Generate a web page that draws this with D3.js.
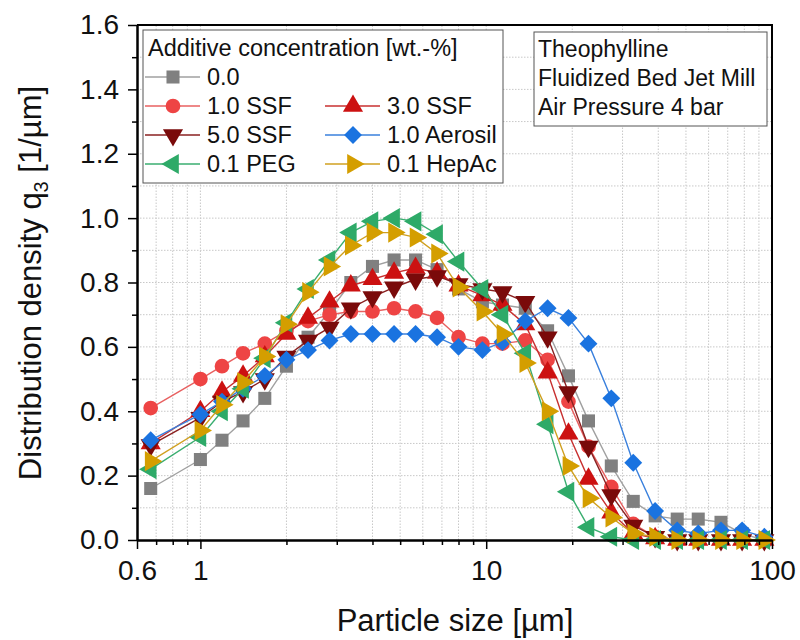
<!DOCTYPE html>
<html>
<head>
<meta charset="utf-8">
<script src="https://cdn.jsdelivr.net/npm/d3@7"></script>
<style>
  body { margin: 0; background: #fff; }
  text { font-family: "Liberation Sans", Arial, sans-serif; fill: #111; }
  .axis path, .axis line { stroke: #000; }
  .axis text { font-size: 28px; font-family: "Liberation Sans", Arial, sans-serif; fill: #111; }
</style>
</head>
<body>
<svg id="chart"></svg>
<script>
// Particle size classes [µm]
const sizes = [0.67, 1.0, 1.19, 1.41, 1.68, 2.0, 2.38, 2.83, 3.36, 4.0, 4.76, 5.66, 6.73, 8.0,
  9.7, 11.4, 13.7, 16.4, 19.4, 22.8, 27.4, 32.7, 39.0, 46.6, 55.2, 66.3, 78.6, 94.0];

// q3 values per additive
const q3_00 = [0.16, 0.25, 0.31, 0.37, 0.44, 0.54, 0.63, 0.71, 0.80, 0.85, 0.87, 0.87, 0.84, 0.78,
  0.74, 0.73, 0.72, 0.65, 0.51, 0.37, 0.23, 0.12, 0.075, 0.065, 0.065, 0.055, 0.02, 0.0];
const q3_10ssf = [0.41, 0.50, 0.54, 0.58, 0.61, 0.65, 0.68, 0.70, 0.71, 0.71, 0.72, 0.71, 0.69, 0.63,
  0.61, 0.61, 0.62, 0.56, 0.43, 0.29, 0.165, 0.05, 0.01, 0, 0, 0, 0, 0];
const q3_30ssf = [0.30, 0.40, 0.46, 0.51, 0.57, 0.64, 0.69, 0.74, 0.79, 0.81, 0.83, 0.845, 0.83, 0.79,
  0.76, 0.73, 0.67, 0.52, 0.33, 0.19, 0.085, 0.02, 0.005, 0, 0, 0, 0, 0];
const q3_50ssf = [0.295, 0.38, 0.43, 0.46, 0.50, 0.57, 0.62, 0.66, 0.72, 0.755, 0.785, 0.81, 0.82, 0.795,
  0.78, 0.77, 0.74, 0.63, 0.46, 0.29, 0.14, 0.045, 0.01, 0, 0, 0, 0, 0];
const q3_10aer = [0.31, 0.39, 0.43, 0.47, 0.51, 0.56, 0.59, 0.62, 0.64, 0.64, 0.64, 0.64, 0.63, 0.60,
  0.59, 0.615, 0.68, 0.72, 0.69, 0.61, 0.44, 0.24, 0.09, 0.03, 0.02, 0.03, 0.03, 0.01];
const q3_01peg = [0.22, 0.32, 0.40, 0.47, 0.565, 0.675, 0.78, 0.87, 0.955, 0.99, 1.0, 0.99, 0.95, 0.865,
  0.78, 0.70, 0.58, 0.36, 0.15, 0.04, 0.01, 0, 0, 0, 0, 0, 0, 0];
const q3_01hep = [0.245, 0.34, 0.42, 0.49, 0.57, 0.67, 0.77, 0.85, 0.915, 0.955, 0.955, 0.94, 0.89, 0.785,
  0.71, 0.64, 0.55, 0.40, 0.23, 0.13, 0.07, 0.02, 0.01, 0, 0, 0, 0, 0];

const seriesNames = ['0.0', '1.0 SSF', '3.0 SSF', '5.0 SSF', '1.0 Aerosil', '0.1 PEG', '0.1 HepAc'];
const seriesValues = [q3_00, q3_10ssf, q3_30ssf, q3_50ssf, q3_10aer, q3_01peg, q3_01hep];

const xMajorTicks = [0.6, 1, 10, 100];
const xMinorTicks = [0.7, 0.8, 0.9, 2, 3, 4, 5, 6, 7, 8, 9, 20, 30, 40, 50, 60, 70, 80, 90];
const yMajorTicks = [0, 0.2, 0.4, 0.6, 0.8, 1.0, 1.2, 1.4, 1.6];
const yMinorTicks = [0.1, 0.3, 0.5, 0.7, 0.9, 1.1, 1.3, 1.5];

const infoLines = ['Theophylline', 'Fluidized Bed Jet Mill', 'Air Pressure 4 bar'];

// styles per series: colour, marker shape
const styles = [
  {color: '#808080', line: '#a0a0a0', shape: 'square'},
  {color: '#ee4444', line: '#e86060', shape: 'circle'},
  {color: '#cc1111', line: '#c83030', shape: 'up'},
  {color: '#7a0a0a', line: '#8a2020', shape: 'down'},
  {color: '#1a73e0', line: '#3a80dd', shape: 'diamond'},
  {color: '#2eaa68', line: '#3aae70', shape: 'left'},
  {color: '#d49e00', line: '#d0a020', shape: 'right'}
];

const width = 800, height = 640;
const svg = d3.select('#chart').attr('width', width).attr('height', height);

const xScale = d3.scaleLog().domain([0.6, 100]).range([137, 772]);
const yScale = d3.scaleLinear().domain([0, 1.6]).range([540, 25]);

// marker path generator
function markerPath(shape) {
  if (shape === 'square') return d3.symbol(d3.symbolSquare, 170)();
  if (shape === 'circle') return d3.symbol(d3.symbolCircle, 170)();
  if (shape === 'diamond') return d3.symbol(d3.symbolSquare, 160)();
  return d3.symbol(d3.symbolTriangle, 175)();
}
function markerRotate(shape) {
  return {diamond: 45, up: 0, down: 180, left: -90, right: 90}[shape] || 0;
}

// grid
const grid = svg.append('g').attr('class', 'grid');
grid.selectAll('.gx')
  .data(xMinorTicks.concat([1, 10]))
  .join('line')
    .attr('x1', d => xScale(d)).attr('x2', d => xScale(d))
    .attr('y1', yScale(0)).attr('y2', yScale(1.6))
    .attr('stroke', '#c8c8c8').attr('stroke-dasharray', '1.5,1.5');
grid.selectAll('.gy')
  .data(d3.range(1, 16).map(i => i / 10))
  .join('line')
    .attr('x1', xScale(0.6)).attr('x2', xScale(100))
    .attr('y1', d => yScale(d)).attr('y2', d => yScale(d))
    .attr('stroke', '#c8c8c8').attr('stroke-dasharray', '1.5,1.5');

// frame (top and right)
svg.append('path')
  .attr('d', `M${xScale(0.6)},${yScale(1.6)}H${xScale(100)}V${yScale(0)}`)
  .attr('fill', 'none').attr('stroke', '#000').attr('stroke-width', 2);

// series lines and markers
const plot = svg.append('g');
seriesValues.forEach((vals, i) => {
  const st = styles[i];
  const pts = sizes.map((s, j) => [s, vals[j]]);
  const g = plot.append('g');
  g.append('path')
    .datum(pts)
    .attr('fill', 'none')
    .attr('stroke', st.line)
    .attr('stroke-width', 1.4)
    .attr('d', d3.line().x(d => xScale(d[0])).y(d => yScale(d[1])));
  g.selectAll('path.m')
    .data(pts)
    .join('path')
      .attr('class', 'm')
      .attr('d', markerPath(st.shape))
      .attr('transform', d => `translate(${xScale(d[0])},${yScale(d[1])}) rotate(${markerRotate(st.shape)})`)
      .attr('fill', st.color);
});

// axes
const xAxisG = svg.append('g').attr('class', 'axis')
  .attr('transform', `translate(0,${yScale(0)})`);
xAxisG.call(d3.axisBottom(xScale).tickValues(xMajorTicks).tickFormat(d3.format('~g'))
  .tickSize(9).tickSizeOuter(0).tickPadding(11));
xAxisG.append('g').call(d3.axisBottom(xScale).tickValues(xMinorTicks).tickFormat('')
  .tickSize(5).tickSizeOuter(0));
xAxisG.selectAll('path').attr('stroke-width', 2);
xAxisG.selectAll('line').attr('stroke-width', 1.5);

const yAxisG = svg.append('g').attr('class', 'axis')
  .attr('transform', `translate(${xScale(0.6)},0)`);
yAxisG.call(d3.axisLeft(yScale).tickValues(yMajorTicks).tickFormat(d3.format('.1f'))
  .tickSize(9).tickSizeOuter(0).tickPadding(9));
yAxisG.append('g').call(d3.axisLeft(yScale).tickValues(yMinorTicks).tickFormat('')
  .tickSize(5).tickSizeOuter(0));
yAxisG.selectAll('path').attr('stroke-width', 2);
yAxisG.selectAll('line').attr('stroke-width', 1.5);

// axis titles
svg.append('text')
  .attr('x', 455).attr('y', 631)
  .attr('text-anchor', 'middle')
  .style('font-size', '31px')
  .text('Particle size [µm]');

const yTitle = svg.append('text')
  .attr('transform', 'translate(41,283) rotate(-90)')
  .attr('text-anchor', 'middle')
  .style('font-size', '31px');
yTitle.append('tspan').text('Distribution density q');
yTitle.append('tspan').attr('dy', 7).style('font-size', '20px').text('3');
yTitle.append('tspan').attr('dy', -7).text(' [1/µm]');

// legend
const legend = svg.append('g');
legend.append('rect')
  .attr('x', 143).attr('y', 30).attr('width', 360).attr('height', 153)
  .attr('fill', '#fff').attr('stroke', '#555').attr('stroke-width', 1);
legend.append('text')
  .attr('x', 148).attr('y', 56)
  .style('font-size', '23.5px')
  .text('Additive concentration [wt.-%]');

const legendPos = [[0, 0], [1, 0], [1, 1], [2, 0], [2, 1], [3, 0], [3, 1]];
seriesNames.forEach((name, i) => {
  const st = styles[i];
  const cx = legendPos[i][1] === 0 ? 173 : 353;
  const cy = 77 + legendPos[i][0] * 29;
  const item = legend.append('g');
  item.append('line')
    .attr('x1', cx - 28).attr('x2', cx + 27).attr('y1', cy).attr('y2', cy)
    .attr('stroke', st.line).attr('stroke-width', 1.4);
  item.append('path')
    .attr('d', markerPath(st.shape))
    .attr('transform', `translate(${cx},${cy}) rotate(${markerRotate(st.shape)})`)
    .attr('fill', st.color);
  item.append('text')
    .attr('x', cx + 34).attr('y', cy + 8)
    .style('font-size', '23.5px')
    .text(name);
});

// info box
const info = svg.append('g');
info.append('rect')
  .attr('x', 534).attr('y', 32).attr('width', 233).attr('height', 94)
  .attr('fill', '#fff').attr('stroke', '#555').attr('stroke-width', 1);
info.selectAll('text')
  .data(infoLines)
  .join('text')
    .attr('x', 538).attr('y', (d, i) => 57 + i * 29)
    .style('font-size', '23px')
    .text(d => d);
</script>
</body>
</html>
